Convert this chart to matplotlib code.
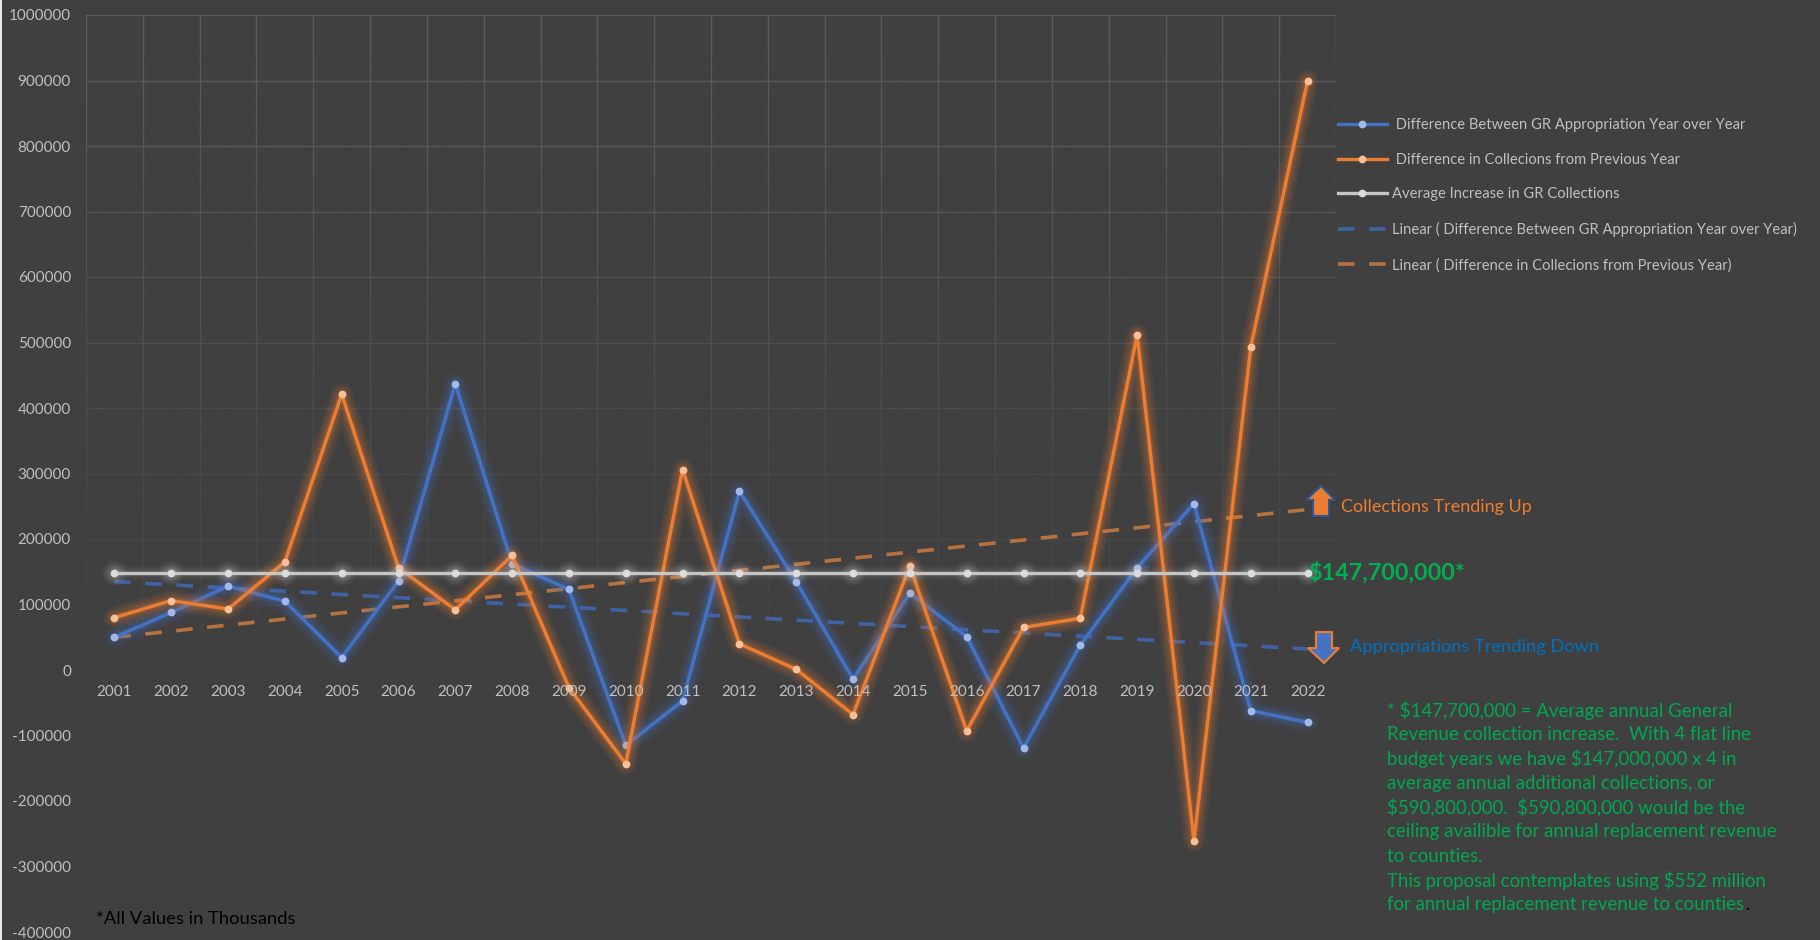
import numpy as np
import matplotlib
matplotlib.use("Agg")
import matplotlib.pyplot as plt
from matplotlib.patches import Polygon, Rectangle
from matplotlib.transforms import Affine2D
from matplotlib.ticker import FixedLocator, StrMethodFormatter

years = list(range(2001, 2023))
appropriation_diff = [50000, 88000, 128000, 105000, 19000, 136000, 437000, 162000, 123000, -115000, -47000,
                      273000, 135000, -14000, 117000, 51000, -119000, 38000, 156000, 254000, -62000, -80000]
collections_diff = [80000, 106000, 93000, 165000, 421000, 156000, 92000, 175000, -27000, -143000, 306000,
                    40000, 1000, -68000, 159000, -93000, 65000, 79000, 512000, -261000, 493000, 900000]
average_increase = [147700] * 22
trend_years = [2001, 2022]
appropriation_trend = [135000, 32000]
collections_trend = [50000, 245000]
y_ticks = list(range(-400000, 1000001, 100000))

series_labels = [" Difference Between GR Appropriation Year over Year",
                 " Difference in Collecions from Previous Year",
                 "Average Increase in GR Collections",
                 "Linear ( Difference Between GR Appropriation Year over Year)",
                 "Linear ( Difference in Collecions from Previous Year)"]
note_lines = ["* $147,700,000 = Average annual General",
              "Revenue collection increase.  With 4 flat line",
              "budget years we have $147,000,000 x 4 in",
              "average annual additional collections, or",
              "$590,800,000.  $590,800,000 would be the",
              "ceiling availible for annual replacement revenue",
              "to counties.",
              "This proposal contemplates using $552 million",
              "for annual replacement revenue to counties"]

BG = "#404040"
BLUE, ORANGE, WHITE = "#4472C4", "#ED7D31", "#C6C6C6"
TXT = "#BFBFBF"
GREEN = "#00A84F"
GRID = "#5C5C5C"
plt.rcParams["font.family"] = ["Lato", "DejaVu Sans"]
plt.rcParams["axes.unicode_minus"] = False

W, H = 1820, 940
fig = plt.figure(figsize=(W / 100, H / 100), dpi=100, facecolor=BG)
ax = fig.add_axes([86 / W, 1 - 932 / H, (1336 - 86) / W, (932 - 15) / H], facecolor=BG)
ax.set_xlim(2000.5, 2022.5)
ax.set_ylim(-400000, 1000000)
px = Affine2D().scale(1 / W, -1 / H).translate(0, 1) + fig.transFigure

# grid, fading out towards the bottom
ax.set_yticks(y_ticks)
ax.yaxis.set_major_formatter(StrMethodFormatter("{x:.0f}"))
ax.set_xticks(years)
ax.xaxis.set_minor_locator(FixedLocator([y - 0.5 for y in years] + [2022.5]))
ax.grid(True, axis="y", which="major", color=GRID, lw=1.0, zorder=1)
ax.grid(True, axis="x", which="minor", color=GRID, lw=1.0, zorder=1)
ax.grid(False, axis="x", which="major")
ax.set_axisbelow(True)
for s in ax.spines.values():
    s.set_visible(False)
fade = np.zeros((200, 1, 4))
fade[..., :3] = matplotlib.colors.to_rgb(BG)
fade[:, 0, 3] = np.clip(np.linspace(-0.05, 1.35, 200), 0, 1)
ax.imshow(fade, extent=(2000.5, 2022.5, -400000, 1000000), aspect="auto", zorder=1.5, origin="upper",
          interpolation="bilinear")
ax.set_xlim(2000.5, 2022.5)
ax.set_ylim(-400000, 1000000)

# tick labels
ax.tick_params(axis="y", which="both", length=0, pad=10.8, labelsize=11, labelcolor=TXT)
ax.tick_params(axis="x", which="both", length=0, labelbottom=False)
for y in years:
    ax.annotate(str(y), (y, 0), xytext=(0, -22 * 0.72), textcoords="offset points", ha="center", va="center",
                color=TXT, fontsize=11, zorder=6)


def glow_line(ydata, color, mcolor, z, widths, alpha, label):
    for w, a in zip(widths, alpha):
        ax.plot(years, ydata, color=color, lw=w, alpha=a, solid_joinstyle="round", solid_capstyle="round", zorder=z)
    ax.plot(years, ydata, color=color, lw=2.4, marker="o", ms=5.6, mfc=mcolor, mec=mcolor, mew=0,
            solid_joinstyle="round", zorder=z + 0.1, label=label)


glow_w = (16, 13, 10, 7, 4.5)
glow_a = (0.06, 0.07, 0.09, 0.12, 0.15)
# trends beneath the glowing series
ax.plot(trend_years, appropriation_trend, color="#3F62A4", lw=2.6, dashes=(4.6, 4.0), zorder=2, label=series_labels[3])
ax.plot(trend_years, collections_trend, color="#B8723E", lw=2.6, dashes=(4.6, 4.0), zorder=2, label=series_labels[4])

glow_line(appropriation_diff, BLUE, "#A3B9EA", 3, glow_w, glow_a, series_labels[0])
glow_line(collections_diff, ORANGE, "#F9BF97", 4, glow_w, glow_a, series_labels[1])
# white series: soft band plus halo around the markers
for ms_, a in ((18, 0.05), (15, 0.06), (12, 0.08), (9, 0.10)):
    ax.plot(years, average_increase, ls="none", marker="o", ms=ms_, mfc="#D0D0D0", mew=0, alpha=a, zorder=5)
ax.plot(years, average_increase, color=WHITE, lw=10, alpha=0.05, zorder=5, solid_capstyle="butt")
ax.plot(years, average_increase, color=WHITE, lw=6, alpha=0.07, zorder=5, solid_capstyle="butt")
ax.plot(years, average_increase, color=WHITE, lw=2.4, marker="o", ms=5.6, mfc="#DCDCDC", mec="#DCDCDC", mew=0,
        zorder=5.1, label=series_labels[2])

# legend in the order of the reference
h, l = ax.get_legend_handles_labels()
order = [l.index(s) for s in series_labels]
leg = fig.legend([h[i] for i in order], [l[i] for i in order], loc="upper left",
                 bbox_to_anchor=(1338 / W, 1 - 118 / H), bbox_transform=fig.transFigure, frameon=False,
                 fontsize=10.67, labelcolor=TXT, handlelength=3.3, handletextpad=0.33, labelspacing=1.40,
                 borderpad=0, borderaxespad=0)

# arrows
up = [(1321, 486), (1335, 500), (1329, 500), (1329, 516), (1313, 516), (1313, 500), (1306, 500)]
down = [(1316, 632), (1332, 632), (1332, 648), (1339, 648), (1324, 663), (1308, 648), (1316, 648)]
fig.add_artist(Polygon(up, closed=True, transform=px, fc=ORANGE, ec="#2F5597", lw=1.5, zorder=8))
fig.add_artist(Polygon(down, closed=True, transform=px, fc=BLUE, ec=ORANGE, lw=1.5, zorder=8))
fig.add_artist(Rectangle((0, 0), 1.5, H, transform=px, fc="#E6E6E6", ec="none"))

kw = dict(transform=px, va="center", ha="left", parse_math=False)
fig.text(1341, 507, "Collections Trending Up", color=ORANGE, fontsize=13.0, **kw)
fig.text(1350, 647, "Appropriations Trending Down", color="#0070C0", fontsize=13.15, **kw)
fig.text(1308, 573, "$147,700,000*", color="#00B050", fontsize=16.8, fontweight="bold", **kw)
for i, line in enumerate(note_lines):
    fig.text(1387, 710.5 + i * 24.25, line, color=GREEN, fontsize=13.4, **kw)
fig.text(1746, 904.5, ".", color="black", fontsize=13.4, **kw)
fig.text(96, 919, "*All Values in Thousands", color="black", fontsize=13.2, **kw)

fig.savefig("out.png", dpi=100, facecolor=BG)
